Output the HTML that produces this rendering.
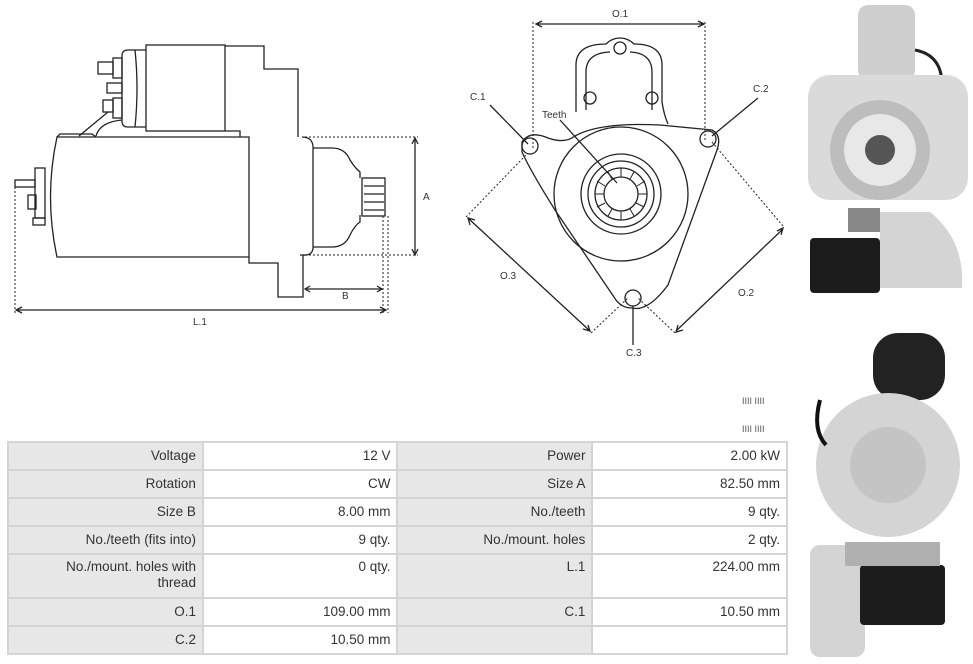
<!DOCTYPE html>
<html><head><meta charset="utf-8"><style>
body{margin:0;width:973px;height:664px;background:#fff;position:relative;overflow:hidden;font-family:"Liberation Sans Narrow","Liberation Sans",sans-serif}
svg{position:absolute;left:0;top:0}
table{position:absolute;left:7px;top:441px;border-collapse:collapse;width:781px;font-size:13.5px;color:#333}
td{border:2px solid #d4d4d4;height:26px;text-align:right;padding:0 6px;vertical-align:middle;line-height:16px}
td.l{background:#e7e7e7;width:183px}
td.v{background:#fff;width:183px}
tr.tall td{height:38px;vertical-align:top;padding-top:4px}
</style></head><body>
<svg width="973" height="664" viewBox="0 0 973 664" fill="none" stroke="#222" stroke-width="1.3" font-family="Liberation Sans, sans-serif">
<rect x="146" y="45" width="79" height="86"/>
<path d="M146 50 H128 Q122 50 122 56 V121 Q122 127 128 127 H146"/>
<path d="M135 50 Q139 88 135 127"/>
<rect x="98" y="62" width="15" height="12"/><rect x="113" y="58" width="9" height="20"/>
<rect x="107" y="83" width="15" height="10"/>
<rect x="103" y="100" width="10" height="12"/><rect x="113" y="98" width="9" height="20"/>
<path d="M108 112 L79 136 M122 120 Q100 122 96 136"/>
<path d="M225 46 H264 V69 H298 V137"/>
<path d="M225 131 H240 V137"/>
<path d="M57 137 H249 V257 H57 Q44 197 57 137 Z"/>
<path d="M57 137 L60 134 H92 L96 137"/>
<rect x="35" y="168" width="10" height="50"/><rect x="28" y="195" width="8" height="14"/>
<rect x="15" y="180" width="20" height="7"/><rect x="33" y="218" width="12" height="7"/>
<path d="M249 257 V263 H278 V297 H303 V255"/>
<path d="M302 137 Q314 137 313 150 V245 Q314 256 303 255 H300"/>
<path d="M313 148 H332 Q345 148 350 160 Q355 168 360 172 V178 M313 247 H332 Q345 247 350 235 Q355 225 360 222 V215"/>
<rect x="362" y="178" width="23" height="38"/>
<path d="M364 186 H384 M364 194 H384 M364 202 H384 M364 210 H384"/>
<g stroke-dasharray="2 2" stroke-width="1"><path d="M305 137 H418 M305 255 H418 M15 187 V313 M383 216 V313 M388 216 V313 M303 262 V290"/></g>
<path d="M415 140 V253 M412 144 L415 138 L418 144 M412 249 L415 255 L418 249"/>
<path d="M306 289 H381 M310 286 L305 289 L310 292 M377 286 L382 289 L377 292"/>
<path d="M17 310 H385 M22 307 L16 310 L22 313 M380 307 L386 310 L380 313"/>
<path d="M576 112 V65 Q576 44 606 44 Q612 38 620 38 Q628 38 634 44 Q662 44 662 65 V102 Q664 115 668 124"/>
<path d="M586 110 V72 Q586 53 610 52 M630 52 Q652 53 652 72 V110"/>
<circle cx="620" cy="48" r="6"/><circle cx="590" cy="98" r="6"/><circle cx="652" cy="98" r="6"/>
<path d="M522 142 Q530 130 548 138 Q565 144 575 136 Q600 122 660 125 L712 130 Q722 135 717 150 L668 285 Q648 312 632 308 Q622 308 616 300 L555 210 Q530 170 522 152 Z"/>
<circle cx="530" cy="146" r="8"/><circle cx="708" cy="139" r="8"/><circle cx="633" cy="298" r="8"/>
<circle cx="621" cy="194" r="67"/><circle cx="621" cy="194" r="40"/><circle cx="621" cy="194" r="33"/><circle cx="621" cy="194" r="26"/><circle cx="621" cy="194" r="17"/>
<g stroke-width="1"><path d="M621 168 V177 M634 172 L630 179 M645 181 L637 186 M647 194 H638 M644 207 L636 203 M634 216 L630 209 M621 220 V211 M608 216 L612 209 M597 207 L605 203 M595 194 H604 M597 181 L605 186 M608 172 L612 179"/></g>
<g stroke-dasharray="2 2" stroke-width="1"><path d="M533 22 V150 M705 22 V142 M466 217 L526 155 M591 333 L628 298 M783 226 L712 142 M675 333 L638 298"/></g>
<path d="M537 24 H703 M542 21 L536 24 L542 27 M698 21 L704 24 L698 27"/>
<path d="M469 219 L590 331 M470 225 L468 218 L475 220 M583 329 L590 331 L588 325"/>
<path d="M783 229 L676 331 M777 231 L783 228 L781 235 M678 325 L676 332 L683 330"/>
<path d="M490 105 L528 144 M758 98 L712 136 M633 345 V306 M560 120 L617 183"/>
<g fill="#333" stroke="none" font-size="10"><text x="612" y="17">O.1</text><text x="470" y="100">C.1</text><text x="753" y="92">C.2</text><text x="542" y="118">Teeth</text><text x="500" y="279">O.3</text><text x="738" y="296">O.2</text><text x="626" y="356">C.3</text><text x="423" y="200">A</text><text x="342" y="299">B</text><text x="193" y="325">L.1</text></g>
</svg>
<svg width="973" height="664" viewBox="0 0 973 664">
<rect x="858" y="5" width="57" height="75" rx="10" fill="#cfcfcf"/>
<path d="M915 50 Q942 55 942 85" stroke="#222" stroke-width="3" fill="none"/>
<rect x="808" y="75" width="160" height="125" rx="22" fill="#dadada"/>
<circle cx="880" cy="150" r="50" fill="#bdbdbd"/><circle cx="880" cy="150" r="36" fill="#e8e8e8"/>
<circle cx="880" cy="150" r="15" fill="#555"/>
<rect x="848" y="208" width="32" height="24" fill="#888"/>
<rect x="810" y="238" width="70" height="55" rx="4" fill="#1c1c1c"/>
<path d="M880 212 H930 Q965 240 962 288 H880 Z" fill="#d4d4d4"/>
<rect x="873" y="333" width="72" height="67" rx="25" fill="#222"/>
<circle cx="888" cy="465" r="72" fill="#d4d4d4"/>
<path d="M820 400 Q812 430 826 445" stroke="#111" stroke-width="4" fill="none"/>
<circle cx="888" cy="465" r="38" fill="#c4c4c4"/>
<rect x="810" y="545" width="55" height="112" rx="10" fill="#d4d4d4"/>
<rect x="860" y="565" width="85" height="60" rx="4" fill="#1c1c1c"/>
<rect x="845" y="542" width="95" height="24" fill="#b0b0b0"/>
<g fill="#555" font-size="9"><text x="742" y="404">IIII IIII</text><text x="742" y="432">IIII IIII</text></g>
</svg>
<table>
<tr><td class="l">Voltage</td><td class="v">12 V</td><td class="l">Power</td><td class="v">2.00 kW</td></tr>
<tr><td class="l">Rotation</td><td class="v">CW</td><td class="l">Size A</td><td class="v">82.50 mm</td></tr>
<tr><td class="l">Size B</td><td class="v">8.00 mm</td><td class="l">No./teeth</td><td class="v">9 qty.</td></tr>
<tr><td class="l">No./teeth (fits into)</td><td class="v">9 qty.</td><td class="l">No./mount. holes</td><td class="v">2 qty.</td></tr>
<tr class="tall"><td class="l">No./mount. holes with<br>thread</td><td class="v">0 qty.</td><td class="l">L.1</td><td class="v">224.00 mm</td></tr>
<tr><td class="l">O.1</td><td class="v">109.00 mm</td><td class="l">C.1</td><td class="v">10.50 mm</td></tr>
<tr><td class="l">C.2</td><td class="v">10.50 mm</td><td class="l"></td><td class="v"></td></tr>
</table>
</body></html>
